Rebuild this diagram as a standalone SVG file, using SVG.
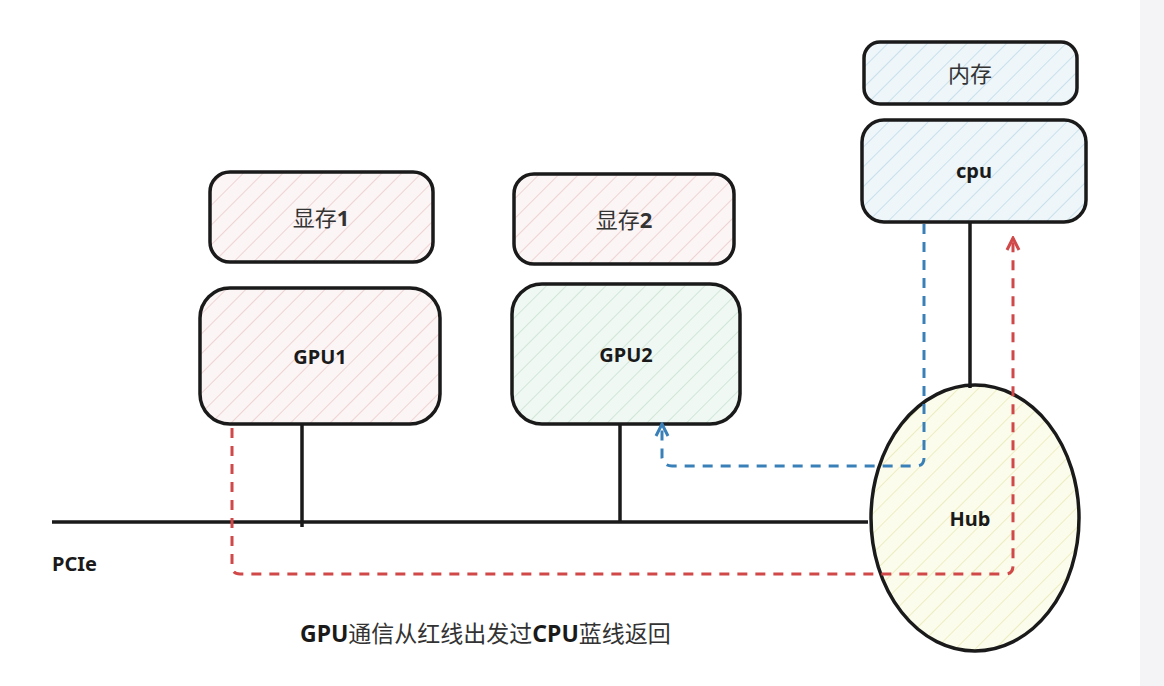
<svg xmlns="http://www.w3.org/2000/svg" width="1164" height="686" viewBox="0 0 1164 686">
<defs>
<pattern id="hp" width="14" height="14" patternUnits="userSpaceOnUse" patternTransform="rotate(45)"><rect width="14" height="14" fill="#fbf5f5"/><line x1="0" y1="0" x2="0" y2="14" stroke="#ebc8c8" stroke-width="1.5"/></pattern>
<pattern id="hg" width="14" height="14" patternUnits="userSpaceOnUse" patternTransform="rotate(45)"><rect width="14" height="14" fill="#f0f8f3"/><line x1="0" y1="0" x2="0" y2="14" stroke="#c6e0cf" stroke-width="1.5"/></pattern>
<pattern id="hb" width="14" height="14" patternUnits="userSpaceOnUse" patternTransform="rotate(45)"><rect width="14" height="14" fill="#eef6fa"/><line x1="0" y1="0" x2="0" y2="14" stroke="#bcd9e6" stroke-width="1.5"/></pattern>
<pattern id="hy" width="14" height="14" patternUnits="userSpaceOnUse" patternTransform="rotate(45)"><rect width="14" height="14" fill="#fcfcec"/><line x1="0" y1="0" x2="0" y2="14" stroke="#e8e8b4" stroke-width="1.5"/></pattern>
<marker id="ar" viewBox="0 0 16 16" refX="14" refY="8" markerWidth="16" markerHeight="16" markerUnits="userSpaceOnUse" orient="auto"><path d="M2,2 L14,8 L2,14" fill="none" stroke="#d04848" stroke-width="3"/></marker>
<marker id="ab" viewBox="0 0 16 16" refX="14" refY="8" markerWidth="16" markerHeight="16" markerUnits="userSpaceOnUse" orient="auto"><path d="M2,2 L14,8 L2,14" fill="none" stroke="#3a80b8" stroke-width="3"/></marker>
</defs>
<style>
.box{stroke:#1a1a1a;stroke-width:3.5}
.t{font-family:"Noto Sans","Noto Sans CJK SC",sans-serif;font-size:22px;fill:#333;text-anchor:middle}
.b{font-family:"Noto Sans","Noto Sans CJK SC",sans-serif;font-size:20px;font-weight:bold;fill:#1a1a1a;text-anchor:middle}
.l{text-anchor:start}
.ln{stroke:#1a1a1a;stroke-width:3.5;fill:none}
</style>
<rect width="1164" height="686" fill="#fff"/>
<rect x="1140" y="0" width="24" height="686" fill="#f4f4f6"/>
<g id="mem1"><rect class="box" x="210" y="172" width="223" height="90" rx="20" fill="url(#hp)"/><text class="t" x="321" y="226">显存<tspan font-weight="bold">1</tspan></text></g>
<g id="gpu1"><rect class="box" x="200" y="288" width="240" height="136" rx="30" fill="url(#hp)"/><text class="b" x="320" y="364">GPU1</text></g>
<g id="mem2"><rect class="box" x="514" y="174" width="220" height="90" rx="20" fill="url(#hp)"/><text class="t" x="624" y="228">显存<tspan font-weight="bold">2</tspan></text></g>
<g id="gpu2"><rect class="box" x="512" y="284" width="228" height="140" rx="30" fill="url(#hg)"/><text class="b" x="626" y="362">GPU2</text></g>
<g id="mem"><rect class="box" x="864" y="42" width="213" height="62" rx="16" fill="url(#hb)"/><text class="t" x="970" y="82">内存</text></g>
<g id="cpu"><rect class="box" x="862" y="120" width="224" height="102" rx="22" fill="url(#hb)"/><text class="b" x="974" y="178">cpu</text></g>
<g id="hub"><ellipse class="box" cx="975" cy="518" rx="104" ry="133" fill="url(#hy)"/><text class="b" x="970" y="526">Hub</text></g>
<g id="connectors">
<path class="ln" d="M52,522 H868"/>
<path class="ln" d="M302,424 V527"/>
<path class="ln" d="M620,424 V522"/>
<path class="ln" d="M970,222 V388"/>
<path d="M232,428 V566 Q232,574 240,574 H1005 Q1013,574 1013,566 V238" fill="none" stroke="#d04848" stroke-width="3" stroke-dasharray="10,8" marker-end="url(#ar)"/>
<path d="M924,224 V458 Q924,466 916,466 H672 Q664,466 662,458 V424" fill="none" stroke="#3a80b8" stroke-width="3" stroke-dasharray="10,8" marker-end="url(#ab)"/>
</g>
<text class="b l" x="52" y="571">PCIe</text>
<text class="t l" x="300" y="642" style="font-size:23px"><tspan font-weight="bold" fill="#1a1a1a">GPU</tspan>通信从红线出发过<tspan font-weight="bold" fill="#1a1a1a">CPU</tspan>蓝线返回</text>
</svg>
